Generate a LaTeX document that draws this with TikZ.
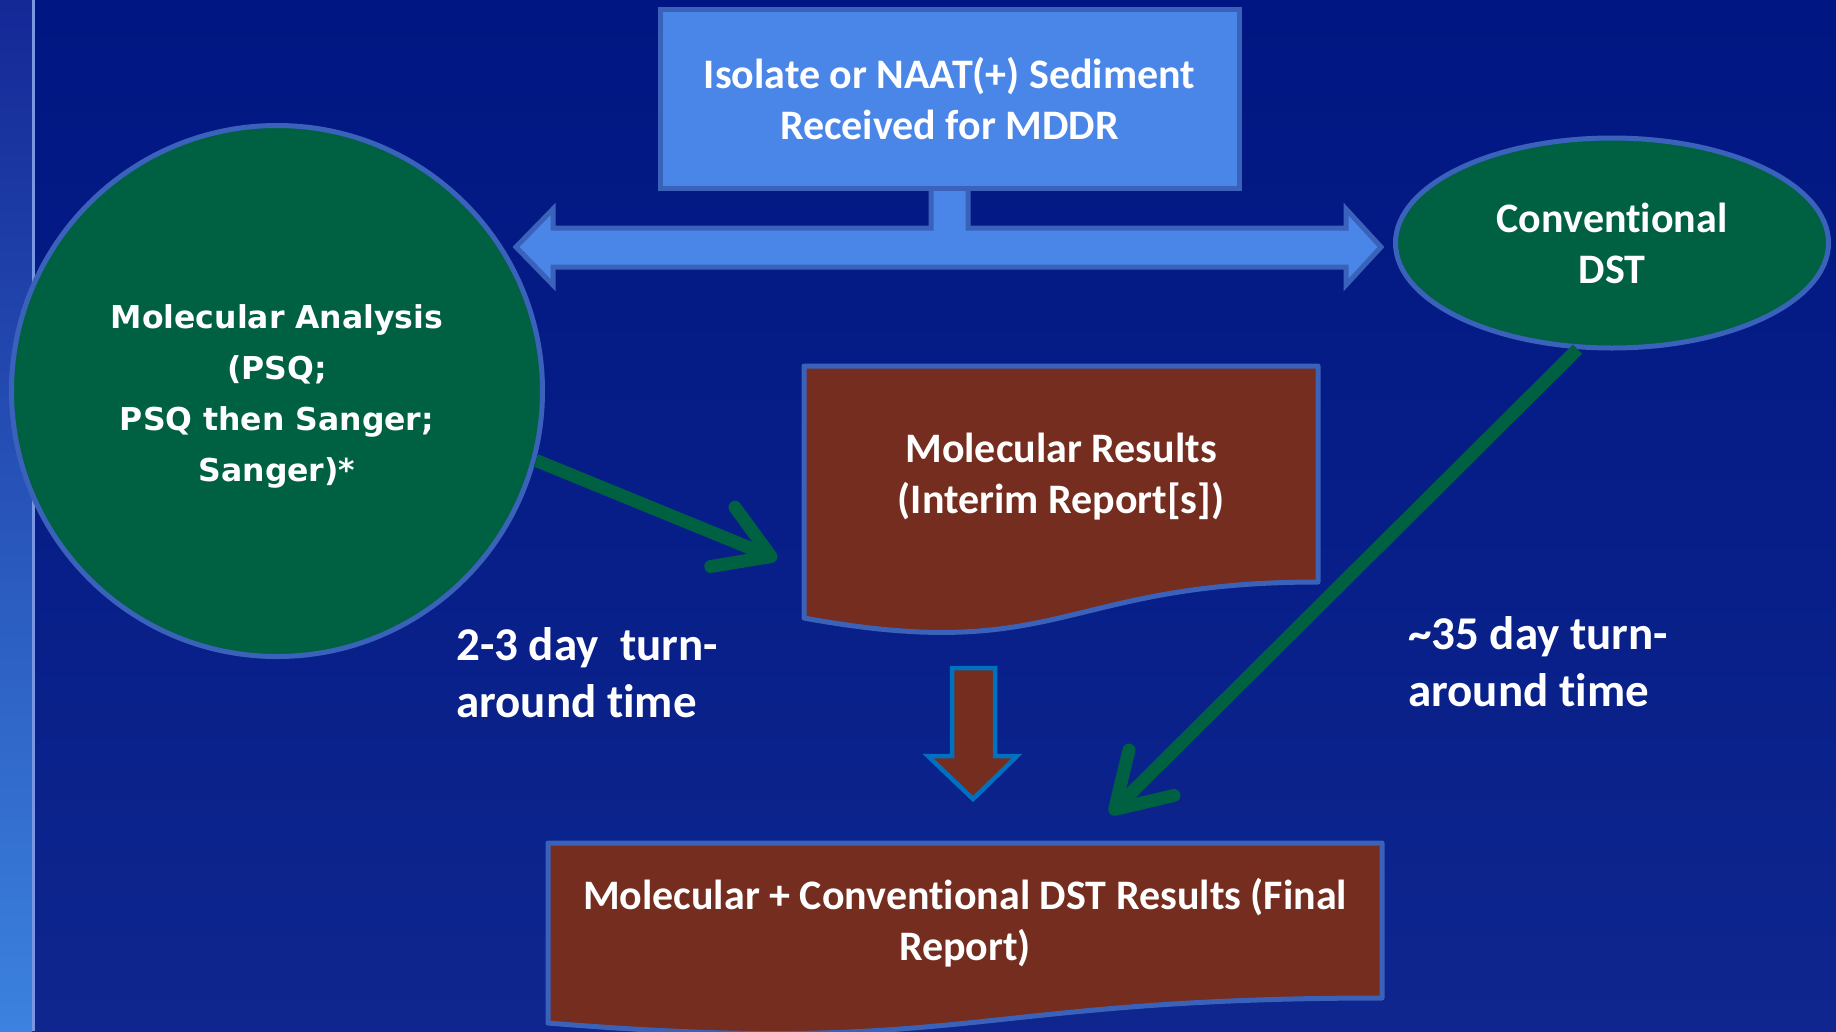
\documentclass[tikz,border=0pt]{standalone}
\usepackage{fontspec}
\setmainfont{Carlito}[Ligatures=CommonOff]
\newfontfamily\verd{DejaVu Sans}
\usetikzlibrary{shapes.geometric,arrows.meta}
\definecolor{bgtop}{RGB}{0,22,130}
\definecolor{bgbot}{RGB}{14,38,142}
\definecolor{striptop}{RGB}{20,40,150}
\definecolor{stripbot}{RGB}{60,130,222}
\definecolor{stripline}{RGB}{120,150,225}
\definecolor{boxblue}{RGB}{74,134,232}
\definecolor{edgeblue}{RGB}{58,98,186}
\definecolor{dgreen}{RGB}{0,96,66}
\definecolor{rust}{RGB}{117,45,31}
\definecolor{arrowedge}{RGB}{0,112,192}
\begin{document}
\begin{tikzpicture}[x=1pt,y=-1pt,
  boxtext/.style={text=white,font=\bfseries\fontsize{42}{51}\selectfont,align=center,inner sep=0pt},
  circtext/.style={text=white,font=\verd\bfseries\fontsize{31.5}{51}\selectfont,align=center,inner sep=0pt},
  lbltext/.style={text=white,font=\bfseries\fontsize{47}{57}\selectfont,align=left,inner sep=0pt,anchor=west},
  greenshape/.style={draw=edgeblue,line width=5pt,fill=dgreen},
  docshape/.style={draw=edgeblue,line width=5pt,fill=rust,line join=round},
  greenarrow/.style={draw=dgreen,line width=13pt,-{Straight Barb[length=52pt,width=64pt,round]}}
]
\useasboundingbox (0,0) rectangle (1836,1031);
% background
\fill[top color=bgtop,bottom color=bgbot] (0,0) rectangle (1836,1031);
\fill[top color=striptop,bottom color=stripbot] (0,0) rectangle (32,1031);
\draw[stripline,line width=3pt] (33,0) -- (33,1031);

% double arrow with stem
\draw[draw=edgeblue,fill=boxblue,line width=5pt,line join=miter]
  (931,190) -- (931,228) -- (553,228) -- (553,209) -- (516,247) -- (553,285) -- (553,267)
  -- (1346,267) -- (1346,285) -- (1381,247) -- (1346,209) -- (1346,228) -- (968,228) -- (968,190);

% top box
\node[draw=edgeblue,line width=5pt,fill=boxblue,minimum width=579pt,minimum height=179pt,boxtext] (iso) at (949.5,98.5)
  {Isolate or NAAT(+) Sediment\\Received for MDDR};

% left circle
\node[circle,greenshape,minimum size=531pt] (mol) at (277,391) {};
\node[circtext] (moltext) at (277,396)
  {Molecular Analysis\\(PSQ;\\PSQ then Sanger;\\Sanger)*};

% right ellipse
\node[ellipse,greenshape,minimum width=433pt,minimum height=210pt,boxtext] (cdst) at (1612,243)
  {Conventional\\DST};

% middle document
\draw[docshape] (804,366) -- (1318,366) -- (1318,582)
  .. controls (1061,582) and (1061,665) .. (804,618) -- cycle;
\node[boxtext] (mres) at (1061,477) {Molecular Results\\(Interim Report[s])};

% bottom document
\draw[docshape] (548,843) -- (1382,843) -- (1382,998)
  .. controls (965,998) and (965,1057) .. (548,1023) -- cycle;
\node[boxtext] (fin) at (965,923) {Molecular + Conventional DST Results (Final\\Report)};

% brown down arrow
\draw[draw=arrowedge,fill=rust,line width=4.5pt,line join=miter]
  (952,668) -- (995,668) -- (995,756) -- (1017,756) -- (973,799) -- (928,756) -- (952,756) -- cycle;

% green arrows
\coordinate (tip1) at (777,559);
\coordinate (tip2) at (1110,814);
\draw[greenarrow] (mol.345.5) -- (tip1);
\draw[greenarrow] (cdst.252) -- (tip2);

% labels
\node[lbltext] (lblA) at (456,673) {2-3 day~ turn-\\around time};
\node[lbltext] (lblB) at (1408,662) {\textasciitilde35 day turn-\\around time};
\end{tikzpicture}
\end{document}
